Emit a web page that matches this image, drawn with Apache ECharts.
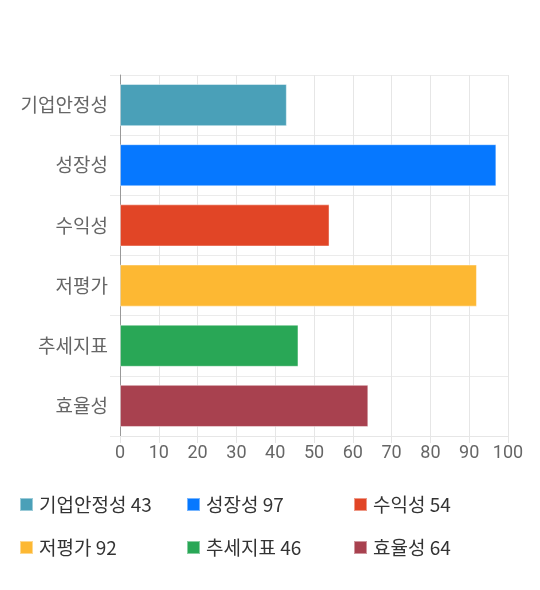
<!DOCTYPE html>
<html>
<head>
<meta charset="utf-8">
<script src="https://cdn.jsdelivr.net/npm/echarts@6/dist/echarts.min.js"></script>
<style>
html,body{margin:0;padding:0;background:#fff;}
#chart{width:540px;height:590px;}
</style>
</head>
<body>
<div id="chart"></div>
<script>
const categories = ['기업안정성', '성장성', '수익성', '저평가', '추세지표', '효율성'];
const values = [43, 97, 54, 92, 46, 64];
const colors = ['#4aa0b8', '#0678ff', '#e14526', '#fdb833', '#29a756', '#a8414f'];
const xTicks = { min: 0, max: 100, interval: 10 };

const FONT = '"Noto Sans CJK KR", "Noto Sans", sans-serif';
const NUMFONT = 'Roboto, "Noto Sans CJK KR", sans-serif';
const chart = echarts.init(document.getElementById('chart'));

const series = categories.map(function (name, i) {
  return {
    name: name,
    type: 'bar',
    stack: 'all',
    barWidth: '70%',
    data: values.map(function (v, j) { return j === i ? v : '-'; }),
    itemStyle: { color: colors[i], borderColor: 'rgba(255,255,255,0.45)', borderWidth: 1 },
    emphasis: { disabled: true }
  };
});

chart.setOption({
  animation: false,
  color: colors,
  grid: { left: 120, right: 32, top: 75, bottom: 154, containLabel: false },
  xAxis: {
    type: 'value',
    min: xTicks.min, max: xTicks.max, interval: xTicks.interval,
    axisLine: { show: true, lineStyle: { color: '#e6e6e6' } },
    axisTick: { show: true, length: 7, lineStyle: { color: '#e6e6e6' } },
    splitLine: { show: true, lineStyle: { color: '#e6e6e6' } },
    axisLabel: { color: '#666', fontSize: 18, fontFamily: NUMFONT, margin: 9 }
  },
  yAxis: {
    type: 'category',
    inverse: true,
    data: categories,
    axisLine: { show: true, lineStyle: { color: '#999' } },
    axisTick: { show: true, length: 10, lineStyle: { color: '#ebebeb' } },
    splitLine: { show: true, lineStyle: { color: '#ebebeb' } },
    axisLabel: { color: '#666', fontSize: 19, fontFamily: FONT, margin: 12 }
  },
  legend: {
    data: categories,
    left: 19, top: 488, width: 530, padding: 0,
    orient: 'horizontal',
    icon: 'rect', itemWidth: 13, itemHeight: 13, itemGap: 10,
    formatter: function (name) { return name + ' ' + values[categories.indexOf(name)]; },
    textStyle: { color: '#333', fontSize: 19, fontFamily: FONT, width: 137, lineHeight: 33, padding: [0, 0, 0, 1] },
    selectedMode: false
  },
  series: series
});
</script>
</body>
</html>
